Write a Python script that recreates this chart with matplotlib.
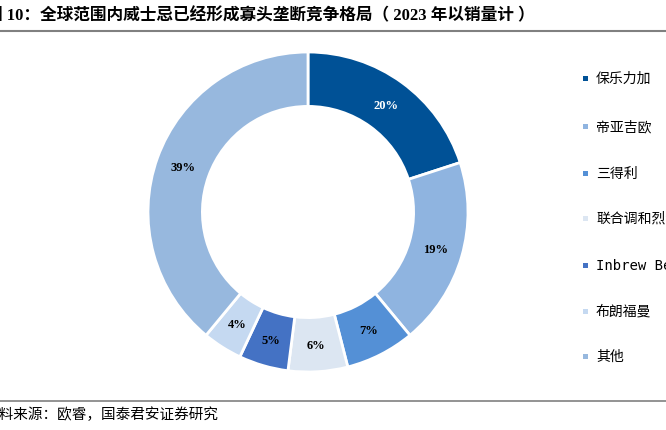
import matplotlib
matplotlib.use("Agg")
import matplotlib.pyplot as plt
from matplotlib.patches import Rectangle
import numpy as np

plt.rcParams['font.family'] = ['Noto Sans CJK SC', 'DejaVu Sans']

# 数据
names = ['保乐力加', '帝亚吉欧', '三得利', '联合调和烈酒', 'Inbrew Beverages', '布朗福曼', '其他']
shares = [20, 19, 7, 6, 5, 4, 39]
colors = ['#005196', '#8FB4E0', '#5490D6', '#DCE6F2', '#4472C4', '#C5D9F1', '#97B8DE']

W, H = 666, 431
fig = plt.figure(figsize=(W / 100, H / 100), dpi=100)

# 标题与来源
fig.text(-14 / W, 1 - 16 / H, '图 10：全球范围内威士忌已经形成寡头垄断竞争格局（ 2023 年以销量计 ）',
         fontsize=12, fontweight='bold', va='center', ha='left',
         family=['Liberation Serif', 'Noto Sans CJK SC'])
fig.add_artist(plt.Line2D([0, 1], [1 - 32 / H, 1 - 32 / H], color='#808080', lw=1.5))
fig.add_artist(plt.Line2D([0, 1], [1 - 402 / H, 1 - 402 / H], color='#808080', lw=1.2))
fig.text(-16 / W, 1 - 415 / H, '资料来源：欧睿，国泰君安证券研究', fontsize=10.5, va='center', ha='left')

# 环形图
cx, cy, r = 308, 213, 160
ax = fig.add_axes([(cx - r) / W, (H - cy - r) / H, 2 * r / W, 2 * r / H])
wedges, _ = ax.pie(shares, colors=colors, startangle=90, counterclock=False, radius=1,
                   wedgeprops=dict(width=0.34, edgecolor='white', linewidth=2))
ax.set_xlim(-1, 1)
ax.set_ylim(-1, 1)
ax.set_aspect('equal')
ax.axis('off')

for v, w in zip(shares, wedges):
    mid = np.deg2rad((w.theta1 + w.theta2) / 2)
    x, y = 0.83 * np.cos(mid), 0.83 * np.sin(mid)
    tc = 'white' if v == 20 else 'black'
    ax.text(x, y, f'{v}%', ha='center', va='center', fontsize=9, fontweight='bold',
            color=tc, family='Liberation Serif')

# 图例
leg_y = [79, 127, 174, 219, 266, 312, 357]
for name, c, y in zip(names, colors, leg_y):
    fig.add_artist(Rectangle((583 / W, (H - y - 2.5) / H), 5 / W, 5 / H,
                             transform=fig.transFigure, facecolor=c, edgecolor='none'))
    fig.text(596 / W, 1 - y / H, name, fontsize=10, va='center', ha='left',
             family=['DejaVu Sans Mono', 'Noto Sans CJK SC'])

fig.savefig('out.png', dpi=100)
